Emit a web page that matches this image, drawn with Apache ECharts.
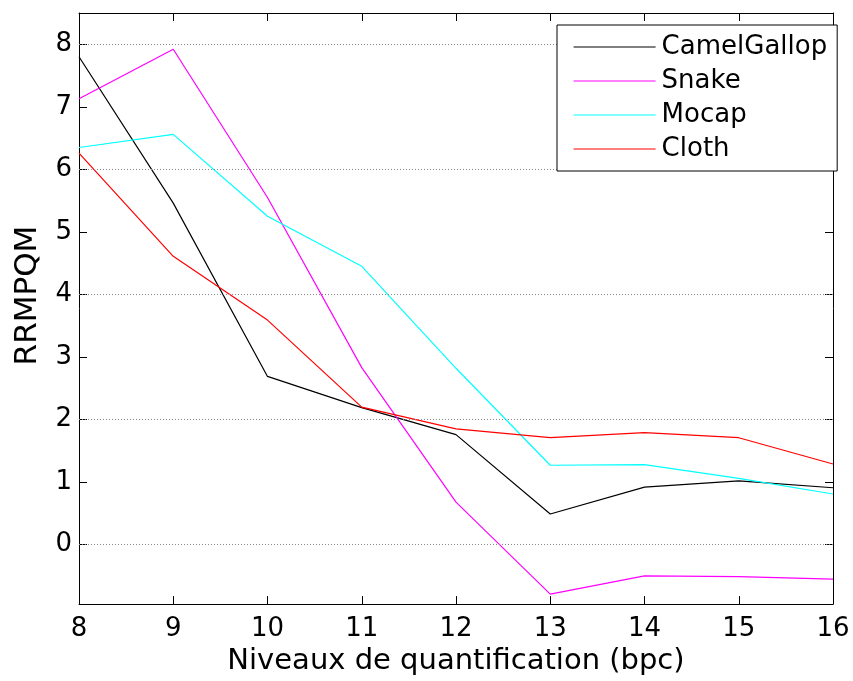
<!DOCTYPE html>
<html>
<head>
<meta charset="utf-8">
<script src="https://cdn.jsdelivr.net/npm/echarts@6/dist/echarts.min.js"></script>
<style>
html,body{margin:0;padding:0;background:#fff;}
#chart{width:853px;height:681px;}
</style>
</head>
<body>
<div id="chart"></div>
<script>
const xValues = [8, 9, 10, 11, 12, 13, 14, 15, 16];
const camelGallop = [7.80, 5.46, 2.69, 2.19, 1.76, 0.49, 0.92, 1.02, 0.91];
const snake = [7.13, 7.92, 5.55, 2.83, 0.68, -0.79, -0.50, -0.51, -0.55];
const mocap = [6.35, 6.56, 5.25, 4.45, 2.82, 1.27, 1.28, 1.06, 0.81];
const cloth = [6.26, 4.61, 3.59, 2.20, 1.85, 1.71, 1.79, 1.71, 1.29];
const yTicks = [0, 1, 2, 3, 4, 5, 6, 7, 8];
const gridValues = [0, 2, 4, 6, 8];
const seriesNames = ['CamelGallop', 'Snake', 'Mocap', 'Cloth'];
const seriesColors = ['#000000', '#ff00ff', '#00ffff', '#ff0000'];
const seriesData = [camelGallop, snake, mocap, cloth];

const FONT = 'DejaVu Sans';
const chart = echarts.init(document.getElementById('chart'), null, {renderer: 'canvas'});

const lineSeries = seriesNames.map((name, i) => ({
  name: name,
  type: 'line',
  xAxisIndex: 0,
  yAxisIndex: 0,
  data: xValues.map((x, j) => [x, seriesData[i][j]]),
  symbol: 'none',
  showSymbol: false,
  lineStyle: {color: seriesColors[i], width: 1.2},
  itemStyle: {color: seriesColors[i]},
  z: 3,
  animation: false
}));

const gridSeries = {
  name: 'grid',
  type: 'line',
  xAxisIndex: 0,
  yAxisIndex: 0,
  data: [],
  z: 1,
  silent: true,
  animation: false,
  markLine: {
    silent: true,
    symbol: ['none', 'none'],
    label: {show: false},
    lineStyle: {color: '#888888', type: [1, 2], width: 1},
    data: gridValues.map(v => ({yAxis: v})),
    animation: false
  }
};

const option = {
  backgroundColor: '#ffffff',
  animation: false,
  grid: {left: 79, right: 20, top: 13, bottom: 73, containLabel: false},
  legend: {
    data: seriesNames,
    orient: 'vertical',
    left: 557,
    top: 25,
    width: 272,
    padding: [9, 10, 9, 16],
    itemWidth: 82,
    itemHeight: 26,
    itemGap: 8,
    borderColor: '#000',
    borderWidth: 1,
    backgroundColor: '#fff',
    itemStyle: {opacity: 0, borderWidth: 0},
    lineStyle: {width: 1.2},
    textStyle: {fontFamily: FONT, fontSize: 26, color: '#000', padding: [0, 0, 0, 1]},
    selectedMode: false,
    z: 10
  },
  xAxis: [
    {
      type: 'value', min: 8, max: 16, interval: 1, position: 'bottom',
      axisLine: {show: true, onZero: false, lineStyle: {color: '#000', width: 1}},
      axisTick: {show: true, inside: true, length: 8, lineStyle: {color: '#000'}},
      axisLabel: {fontFamily: FONT, fontSize: 26, color: '#000', margin: 12},
      splitLine: {show: false},
      name: 'Niveaux de quantification (bpc)',
      nameLocation: 'middle',
      nameGap: 39,
      nameTextStyle: {fontFamily: FONT, fontSize: 29, color: '#000'}
    },
    {
      type: 'value', min: 8, max: 16, interval: 1, position: 'top',
      axisLine: {show: true, onZero: false, lineStyle: {color: '#000', width: 1}},
      axisTick: {show: true, inside: true, length: 8, lineStyle: {color: '#000'}},
      axisLabel: {show: false},
      splitLine: {show: false}
    }
  ],
  yAxis: [
    {
      type: 'value', min: -0.95, max: 8.5, position: 'left',
      axisLine: {show: true, onZero: false, lineStyle: {color: '#000', width: 1}},
      axisTick: {show: true, inside: true, length: 8, lineStyle: {color: '#000'}, customValues: yTicks},
      axisLabel: {fontFamily: FONT, fontSize: 26, color: '#000', margin: 7, customValues: yTicks},
      splitLine: {show: false},
      name: 'RRMPQM',
      nameLocation: 'middle',
      nameGap: 36,
      nameTextStyle: {fontFamily: FONT, fontSize: 31, color: '#000', padding: [0, 0, 0, 26]}
    },
    {
      type: 'value', min: -0.95, max: 8.5, position: 'right',
      axisLine: {show: true, onZero: false, lineStyle: {color: '#000', width: 1}},
      axisTick: {show: true, inside: true, length: 8, lineStyle: {color: '#000'}, customValues: yTicks},
      axisLabel: {show: false},
      splitLine: {show: false}
    }
  ],
  series: [gridSeries].concat(lineSeries)
};
chart.setOption(option);
</script>
</body>
</html>
